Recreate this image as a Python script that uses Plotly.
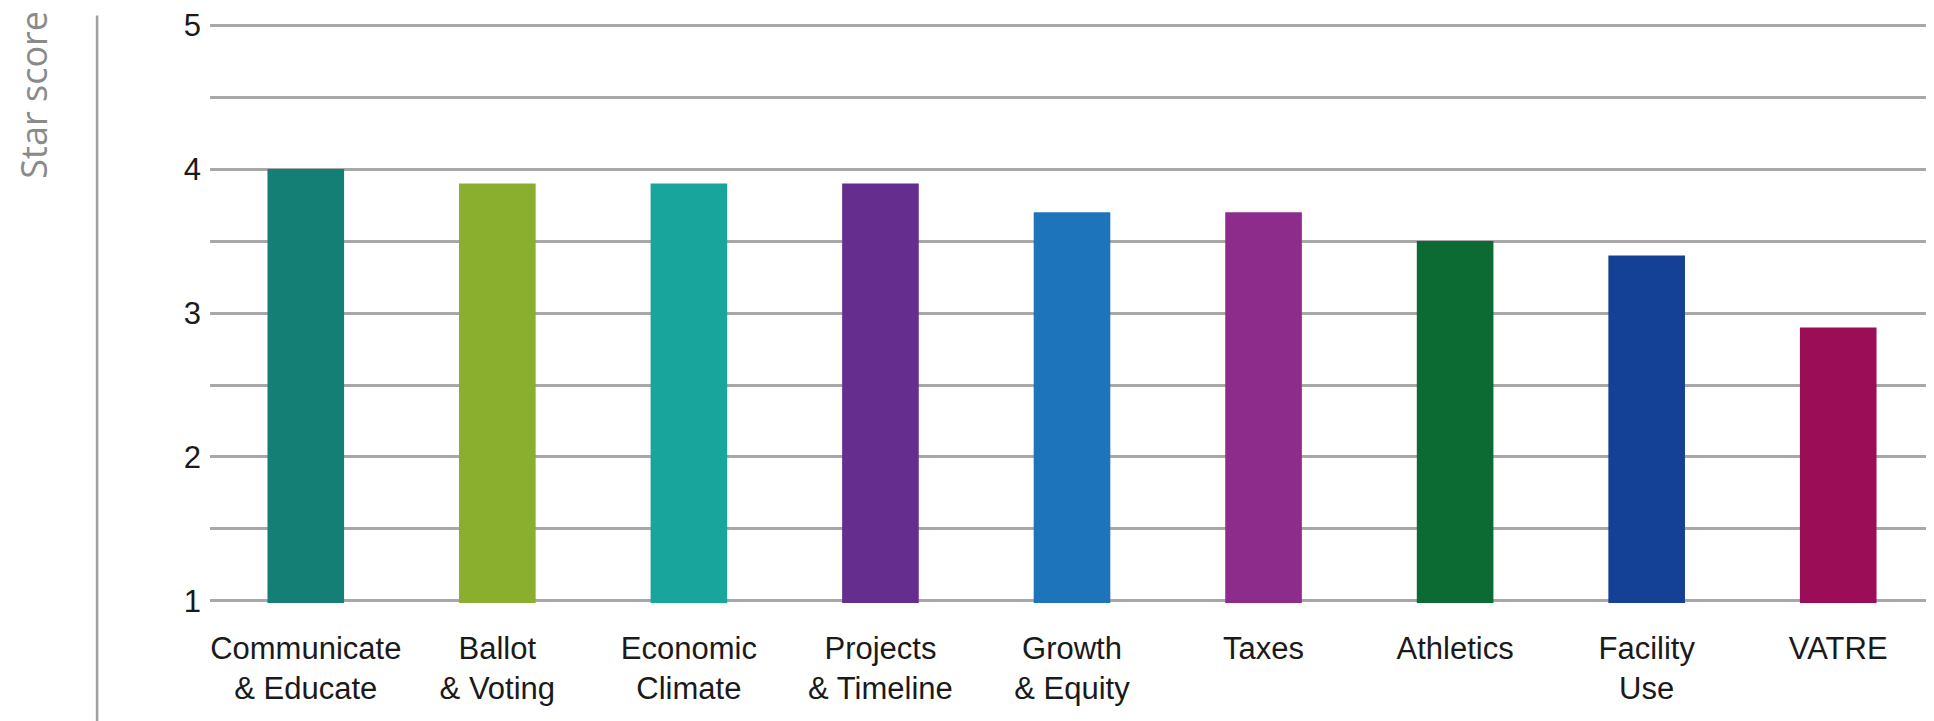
import plotly.graph_objects as go

categories = ["Communicate<br>& Educate", "Ballot<br>& Voting", "Economic<br>Climate",
              "Projects<br>& Timeline", "Growth<br>& Equity", "Taxes", "Athletics",
              "Facility<br>Use", "VATRE"]
scores = [4.0, 3.9, 3.9, 3.9, 3.7, 3.7, 3.5, 3.4, 2.9]
colors = ["#137F75", "#8AAF2F", "#17A59C", "#652D8E", "#1D74BB",
          "#8E2C8C", "#0C6B33", "#144196", "#9B0E57"]
y_ticks = [1, 2, 3, 4, 5]
y_title = "Star score"

fig = go.Figure(go.Bar(x=categories, y=scores, marker=dict(color=colors, line=dict(width=0)),
                       width=0.4, hoverinfo="x+y"))

grid_col = "#a8a8a8"
fig.update_layout(
    width=1926, height=713,
    margin=dict(l=202, r=0, t=15, b=118),
    paper_bgcolor="white", plot_bgcolor="white",
    showlegend=False,
    font=dict(family="Liberation Sans, Arial, sans-serif", color="#1a1a1a"),
    xaxis=dict(showgrid=False, showline=False, zeroline=False, ticks="",
               tickfont=dict(size=31, family="Liberation Sans, Arial, sans-serif", color="#1a1a1a"),
               ticklabelstandoff=24, ticklabeloverflow="allow"),
    yaxis=dict(range=[0.986, 5.014], tickvals=y_ticks, ticks="", showline=False, zeroline=False,
               showgrid=True, gridcolor=grid_col, gridwidth=2.5,
               minor=dict(dtick=0.5, tick0=1, showgrid=True, gridcolor=grid_col, gridwidth=2.5, ticks=""),
               tickfont=dict(size=31, family="Liberation Sans, Arial, sans-serif", color="#1a1a1a"),
               ticklabelstandoff=8, ticklabeloverflow="allow"),
    shapes=[dict(type="line", xref="paper", yref="paper",
                 x0=-0.0655, x1=-0.0655, y0=1.013, y1=-0.21,
                 line=dict(color="#a0a0a0", width=2.5))],
    annotations=[dict(text=y_title, xref="paper", yref="paper",
                      x=-0.1025, y=0.877, textangle=-90, showarrow=False,
                      xanchor="center", yanchor="middle",
                      font=dict(size=36, family="Open Sans, sans-serif", color="#8a8a8a"))],
)

fig.write_html("out.html")
